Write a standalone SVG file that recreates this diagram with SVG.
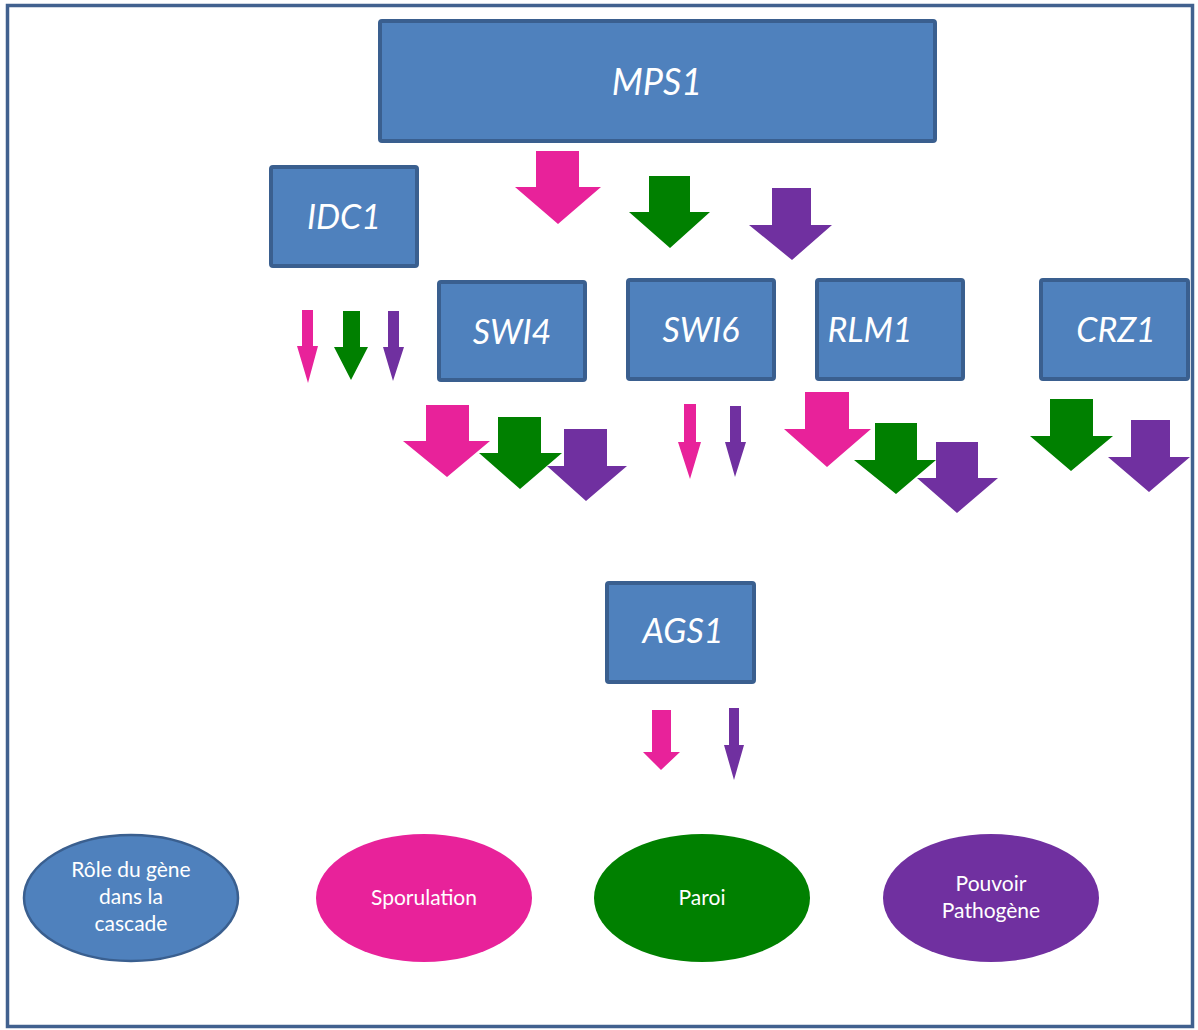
<svg xmlns="http://www.w3.org/2000/svg" width="1198" height="1030" viewBox="0 0 1198 1030">
<style>
.box{fill:#4F81BD;stroke:#3A5F8F;stroke-width:4}
.lbl{font-family:Lato,"Liberation Sans",sans-serif;font-style:italic;fill:#FFFFFF;text-anchor:middle;font-size:34px}
.el{font-family:Lato,"Liberation Sans",sans-serif;fill:#FFFFFF;text-anchor:middle;font-size:21px}
.pk{fill:#E8229A}
.gr{fill:#008000}
.pu{fill:#7030A0}
</style>
<rect x="0" y="0" width="1198" height="1030" fill="#FFFFFF"/>
<rect x="7.5" y="5.5" width="1185" height="1021" fill="none" stroke="#41618F" stroke-width="3.5"/>
<g id="MPS1"><rect class="box" x="380" y="21" width="555" height="120" rx="2"/><text class="lbl" x="657" y="95" style="font-size:36px">MPS1</text></g>
<g id="IDC1"><rect class="box" x="271" y="167" width="146" height="99" rx="2"/><text class="lbl" x="344" y="229">IDC1</text></g>
<g id="SWI4"><rect class="box" x="439" y="282" width="146" height="98" rx="2"/><text class="lbl" x="512" y="344">SWI4</text></g>
<g id="SWI6"><rect class="box" x="628" y="280" width="146" height="99" rx="2"/><text class="lbl" x="701" y="342">SWI6</text></g>
<g id="RLM1"><rect class="box" x="817" y="280" width="146" height="99" rx="2"/><text class="lbl" x="870" y="342">RLM1</text></g>
<g id="CRZ1"><rect class="box" x="1041" y="280" width="147" height="99" rx="2"/><text class="lbl" x="1116" y="342">CRZ1</text></g>
<g id="AGS1"><rect class="box" x="607" y="583" width="147" height="99" rx="2"/><text class="lbl" x="683" y="643">AGS1</text></g>
<g id="role"><ellipse cx="131" cy="898" rx="107" ry="63" fill="#4F81BD" stroke="#3A5F8F" stroke-width="2.5"/><text class="el" x="131" y="877">Rôle du gène</text><text class="el" x="131" y="904">dans la</text><text class="el" x="131" y="931">cascade</text></g>
<g id="sporulation"><ellipse cx="424" cy="898" rx="108" ry="64" fill="#E8229A"/><text class="el" x="424" y="905">Sporulation</text></g>
<g id="paroi"><ellipse cx="702" cy="898" rx="108" ry="64" fill="#008000"/><text class="el" x="702" y="905">Paroi</text></g>
<g id="pouvoir"><ellipse cx="991" cy="898" rx="108" ry="64" fill="#7030A0"/><text class="el" x="991" y="891">Pouvoir</text><text class="el" x="991" y="918">Pathogène</text></g>
<g id="connectors">
<path class="pk" d="M536,151 L579,151 L579,187 L601,187 L558,224 L515,187 L536,187 Z"/>
<path class="gr" d="M649,176 L690,176 L690,212 L710,212 L670,248 L629,212 L649,212 Z"/>
<path class="pu" d="M772,188 L811,188 L811,225 L832,225 L792,260 L749,225 L772,225 Z"/>
<path class="pk" d="M302,310 L313,310 L313,346 L318,346 L308,383 L297,346 L302,346 Z"/>
<path class="gr" d="M343,311 L360,311 L360,347 L368,347 L351,380 L334,347 L343,347 Z"/>
<path class="pu" d="M388,311 L399,311 L399,347 L404,347 L393,381 L383,347 L388,347 Z"/>
<path class="pk" d="M426,405 L469,405 L469,441 L490,441 L447,477 L403,441 L426,441 Z"/>
<path class="gr" d="M498,417 L541,417 L541,453 L562,453 L520,489 L479,453 L498,453 Z"/>
<path class="pu" d="M564,429 L607,429 L607,466 L627,466 L586,501 L547,466 L564,466 Z"/>
<path class="pk" d="M684,404 L696,404 L696,442 L701,442 L690,479 L678,442 L684,442 Z"/>
<path class="pu" d="M730,406 L741,406 L741,442 L746,442 L735,477 L725,442 L730,442 Z"/>
<path class="pk" d="M805,392 L849,392 L849,429 L871,429 L827,467 L784,429 L805,429 Z"/>
<path class="gr" d="M875,423 L917,423 L917,460 L936,460 L896,494 L854,460 L875,460 Z"/>
<path class="pu" d="M936,442 L978,442 L978,478 L998,478 L957,513 L917,478 L936,478 Z"/>
<path class="gr" d="M1050,399 L1093,399 L1093,436 L1113,436 L1071,471 L1030,436 L1050,436 Z"/>
<path class="pu" d="M1131,420 L1170,420 L1170,457 L1190,457 L1149,492 L1108,457 L1131,457 Z"/>
<path class="pk" d="M652,710 L671,710 L671,752 L680,752 L661,770 L643,752 L652,752 Z"/>
<path class="pu" d="M729,708 L739,708 L739,745 L744,745 L734,780 L724,745 L729,745 Z"/>
</g>
</svg>
